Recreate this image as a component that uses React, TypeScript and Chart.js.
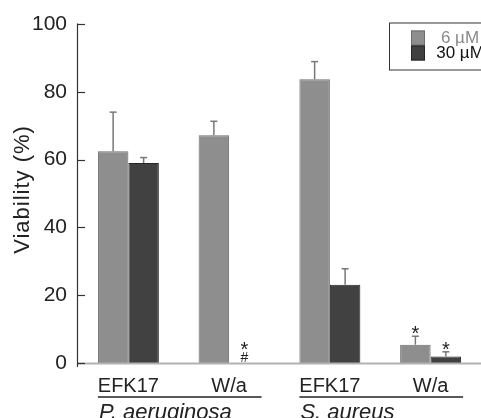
import { useEffect, useRef } from 'react';
import { Chart, registerables } from 'chart.js';

Chart.register(...registerables);

const categories = ['EFK17', 'W/a', 'EFK17', 'W/a'];
const groupNames = ['P. aeruginosa', 'S. aureus'];
const groupStart = [0, 2];
const groupEnd = [1, 3];
const seriesLabels = ['6 µM', '30 µM'];
const yTitle = 'Viability (%)';
const values6 = [62.5, 67.2, 83.7, 5.4];
const values30 = [59.0, 0, 23.1, 1.9];
const err6 = [11.5, 4.1, 5.2, 2.5];
const err30 = [1.6, 0, 4.7, 1.4];
const marks6 = [[], [], [], ['*']];
const marks30 = [[], ['*', '#'], [], ['*']];
const yTickValues = [0, 20, 40, 60, 80, 100];

const FONT = '"Liberation Sans", Arial, sans-serif';
const fill6 = '#8e8e8e';
const border6 = '#6c6c6c';
const fill30 = '#414141';
const border30 = '#262626';

const errs = [err6, err30];
const vals = [values6, values30];
const marks = [marks6, marks30];

const decor = {
  id: 'decor',
  afterDatasetsDraw(chart: any) {
    const ctx: any = chart.ctx;
    const ys = chart.scales.y;
    const { left, right, top, bottom } = chart.chartArea;
    const line = (x1: number, y1: number, x2: number, y2: number) => {
      ctx.beginPath();
      ctx.moveTo(x1, y1);
      ctx.lineTo(x2, y2);
      ctx.stroke();
    };
    ctx.save();
    // y title
    ctx.save();
    ctx.translate(22.5, (top + bottom) / 2 - 4);
    ctx.rotate(-Math.PI / 2);
    ctx.font = '22px ' + FONT;
    ctx.fillStyle = '#222';
    ctx.textAlign = 'center';
    ctx.textBaseline = 'middle';
    if ('letterSpacing' in ctx) ctx.letterSpacing = '1px';
    ctx.fillText(yTitle, 0, 0);
    if ('letterSpacing' in ctx) ctx.letterSpacing = '0px';
    ctx.restore();
    // baseline
    const y0 = ys.getPixelForValue(0);
    ctx.strokeStyle = '#b2b2b2';
    ctx.lineWidth = 2;
    line(left, y0 + 0.5, right, y0 + 0.5);
    // axis
    ctx.strokeStyle = '#333';
    ctx.lineWidth = 1.2;
    line(left - 0.5, top - 0.5, left - 0.5, bottom + 4);
    yTickValues.forEach((v) => {
      const py = Math.round(ys.getPixelForValue(v)) + 0.5;
      line(left - 0.5, py, left + 7, py);
    });
    // error bars + marks
    for (let di = 0; di < 2; di++) {
      const meta = chart.getDatasetMeta(di);
      meta.data.forEach((bar: any, i: number) => {
        const e = errs[di][i];
        let topP = ys.getPixelForValue(vals[di][i]);
        if (e > 0) {
          const ep = ys.getPixelForValue(vals[di][i] + e);
          ctx.strokeStyle = '#777';
          ctx.lineWidth = 1.5;
          line(bar.x, bar.y, bar.x, ep);
          line(bar.x - 3.5, ep, bar.x + 3.5, ep);
          topP = ep;
        }
        const m = marks[di][i];
        let cy = topP - 6;
        for (let k = m.length - 1; k >= 0; k--) {
          const t = m[k];
          ctx.font = (t === '*' ? '20px ' : '14px ') + FONT;
          ctx.fillStyle = '#222';
          ctx.textAlign = 'center';
          ctx.textBaseline = 'alphabetic';
          const mt = ctx.measureText(t);
          const asc = mt.actualBoundingBoxAscent;
          const desc = mt.actualBoundingBoxDescent;
          ctx.fillText(t, bar.x, cy + (asc - desc) / 2);
          cy -= 11.5;
        }
      });
    }
    // group lines + labels
    const m0 = chart.getDatasetMeta(0);
    const m1 = chart.getDatasetMeta(1);
    groupNames.forEach((g, gi) => {
      const b0 = m0.data[groupStart[gi]];
      const b1 = m1.data[groupEnd[gi]];
      const x1 = b0.x - b0.width / 2;
      const x2 = b1.x + b1.width / 2 + 2;
      ctx.strokeStyle = '#222';
      ctx.lineWidth = 1.5;
      line(x1, bottom + 34, x2, bottom + 34);
      ctx.font = 'italic 22px ' + FONT;
      ctx.fillStyle = '#222';
      ctx.textAlign = 'left';
      ctx.textBaseline = 'alphabetic';
      ctx.fillText(g, x1 + 1, bottom + 56);
    });
    // legend
    const lx = right - 92;
    const ly = top - 1.5;
    ctx.fillStyle = '#fff';
    ctx.fillRect(lx, ly, 120, 47);
    ctx.strokeStyle = '#333';
    ctx.lineWidth = 1;
    ctx.strokeRect(lx + 0.5, ly + 0.5, 120, 47);
    const sw = [
      { f: fill6, b: border6, c: '#8a8a8a' },
      { f: fill30, b: border30, c: '#111' },
    ];
    seriesLabels.forEach((s, si) => {
      const sy = ly + 8 + si * 15;
      ctx.fillStyle = sw[si].f;
      ctx.fillRect(lx + 22, sy, 14, 15);
      ctx.strokeStyle = sw[si].b;
      ctx.strokeRect(lx + 22.5, sy + 0.5, 13, 14);
      ctx.font = '17px ' + FONT;
      ctx.fillStyle = sw[si].c;
      ctx.textAlign = 'center';
      ctx.textBaseline = 'middle';
      ctx.fillText(s, lx + 71, sy + 8);
    });
    ctx.restore();
  },
};

export default function App() {
  const ref = useRef<HTMLCanvasElement | null>(null);
  useEffect(() => {
    document.body.style.margin = '0';
    if (!ref.current) return;
    const chart = new Chart(ref.current, {
      type: 'bar',
      data: {
        labels: categories,
        datasets: [
          {
            label: seriesLabels[0],
            data: values6,
            backgroundColor: fill6,
            borderColor: border6,
            borderWidth: 1,
          },
          {
            label: seriesLabels[1],
            data: values30,
            backgroundColor: fill30,
            borderColor: border30,
            borderWidth: 1,
          },
        ],
      },
      options: {
        animation: false,
        responsive: true,
        maintainAspectRatio: false,
        layout: { padding: { top: 24, right: 0, bottom: 0, left: 0 } },
        datasets: { bar: { categoryPercentage: 0.605, barPercentage: 1 } },
        plugins: { legend: { display: false }, tooltip: { enabled: false } },
        scales: {
          x: {
            grid: { display: false },
            border: { display: false },
            ticks: { font: { family: FONT, size: 20 }, color: '#222', padding: 3 },
            afterFit: (s: any) => {
              s.height = 55;
            },
          },
          y: {
            min: 0,
            max: 100,
            grid: { display: false, drawTicks: false },
            border: { display: false },
            ticks: {
              stepSize: 20,
              font: { family: FONT, size: 21 },
              color: '#222',
              padding: 11,
            },
            afterFit: (s: any) => {
              s.width = 78;
            },
          },
        },
      },
      plugins: [decor],
    });
    return () => chart.destroy();
  }, []);
  return (
    <div style={{ width: 481, height: 418, position: 'relative' }}>
      <canvas ref={ref} />
    </div>
  );
}
